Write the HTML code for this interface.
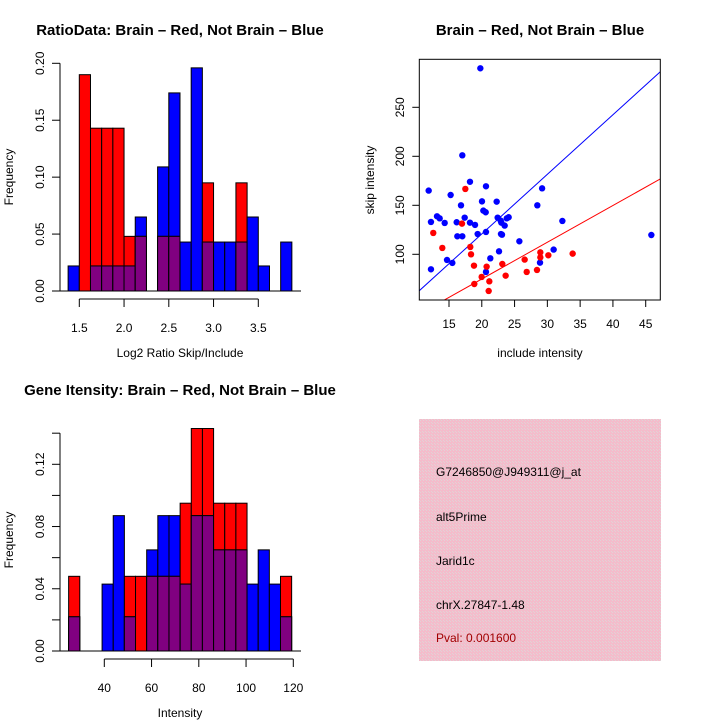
<!DOCTYPE html>
<html><head><meta charset="utf-8"><style>
body{margin:0;background:#fff}
svg{display:block;font-family:"Liberation Sans",sans-serif}
</style></head><body>
<svg id="c" width="720" height="720" xmlns="http://www.w3.org/2000/svg">
<defs>
<pattern id="hatch" width="3" height="3" patternUnits="userSpaceOnUse">
<rect width="3" height="3" fill="#f4bccb"/>
<rect x="0" y="0" width="1" height="1" fill="#e2d2d6"/>
<rect x="2" y="2" width="1" height="1" fill="#e2d2d6"/>
</pattern>
</defs>
<text x="180" y="35" text-anchor="middle" font-size="15" font-weight="bold">RatioData: Brain – Red, Not Brain – Blue</text>
<text x="540" y="35" text-anchor="middle" font-size="15" font-weight="bold">Brain – Red, Not Brain – Blue</text>
<text x="180" y="395" text-anchor="middle" font-size="15" font-weight="bold">Gene Itensity: Brain – Red, Not Brain – Blue</text>
<g id="h1"></g>
<g id="h2"></g>
<g id="sc"></g>
<g>
<rect x="419" y="419" width="242" height="242" fill="url(#hatch)"/>
<text x="436" y="476" font-size="12">G7246850@J949311@j_at</text>
<text x="436" y="521" font-size="12">alt5Prime</text>
<text x="436" y="565" font-size="12">Jarid1c</text>
<text x="436" y="609" font-size="12">chrX.27847-1.48</text>
<text x="436" y="642" font-size="12" fill="#a00000">Pval: 0.001600</text>
</g>
</svg>
<script>
const ratioBreakStart = 1.375, ratioBinWidth = 0.125;
const ratioRed  = [0,0.190,0.143,0.143,0.143,0.048,0.048,0,0.048,0.048,0,0,0.095,0,0,0.095,0,0,0,0];
const ratioBlue = [0.022,0,0.022,0.022,0.022,0.022,0.065,0,0.109,0.174,0.043,0.196,0.043,0.043,0.043,0.043,0.065,0.022,0,0.043];
const ratioXTicks = [1.5,2.0,2.5,3.0,3.5];
const ratioYTicks = [0,0.05,0.10,0.15,0.20];
const ratioYLabels = ["0.00","0.05","0.10","0.15","0.20"];

const intBreakStart = 24.9, intBinWidth = 4.72;
const intRed  = [0.048,0,0,0,0,0.048,0.048,0.048,0.048,0.048,0.095,0.143,0.143,0.095,0.095,0.095,0,0,0,0.048];
const intBlue = [0.022,0,0,0.043,0.087,0.022,0,0.065,0.087,0.087,0.043,0.087,0.087,0.065,0.065,0.065,0.043,0.065,0.043,0.022];
const intXTicks = [40,60,80,100,120];
const intYTicks = [0,0.02,0.04,0.06,0.08,0.10,0.12,0.14];
const intYLabels = ["0.00","","0.04","","0.08","","0.12",""];

const blueX = [19.78,17.03,11.9,18.2,20.64,15.25,29.2,20.03,22.27,16.83,28.47,20.24,20.6,13.17,13.58,17.39,12.25,14.34,16.17,18.2,18.97,22.42,22.88,22.98,23.49,23.8,24.1,32.29,19.37,20.64,16.27,17.03,22.93,23.08,25.73,45.86,22.63,30.96,14.7,15.51,21.3,12.25,20.64,28.88];
const blueY = [289.8,201,165,174,169.4,160.5,167.3,154,153.7,150,150,144.6,142.9,138.8,136.7,137.4,133,132,132.7,132.3,130,137.4,134.4,132.3,129.3,136.7,137.8,134,120.7,122.8,118.4,118.4,120.7,120,113.3,119.7,103,104.8,94.2,91.2,95.9,84.7,82,91.5];
const redX = [17.49,16.98,12.6,13.98,18.25,18.36,18.81,20.74,23.13,19.98,21.15,23.64,18.86,21.05,26.54,26.85,28.42,28.93,28.93,30.15,33.86];
const redY = [166.7,131.3,121.8,106.5,107.5,100,88.4,87.4,90.1,76.9,72.4,78.2,69.7,62.6,94.6,82,84,102,96.9,99,100.7];
const blueLine = [6.08,-0.8]; // slope, intercept
const redLine = [3.75,-0.2];
const scXTicks = [15,20,25,30,35,40,45];
const scYTicks = [100,150,200,250];

const NS="http://www.w3.org/2000/svg";
function mk(p,t,a){const e=document.createElementNS(NS,t);for(const k in a)e.setAttribute(k,a[k]);p.appendChild(e);return e;}

function hist(g,o){
  const sx=v=>o.x0px+(v-o.xv0)*o.xs, sy=v=>o.y0px-v*o.ys;
  const n=o.red.length;
  for(let i=0;i<n;i++){
    const a=sx(o.start+i*o.bw), b=sx(o.start+(i+1)*o.bw);
    const r=o.red[i], bl=o.blue[i];
    const layers=[];
    if(r>0) layers.push([r,'#ff0000','bar-red-'+i]);
    if(bl>0) layers.push([bl,'#0000ff','bar-blue-'+i]);
    layers.sort((p,q)=>q[0]-p[0]);
    if(r>0&&bl>0) layers.push([Math.min(r,bl),'#800080','bar-overlap-'+i]);
    for(const L of layers){
      const e=mk(g,'rect',{x:a,y:sy(L[0]),width:b-a,height:sy(0)-sy(L[0]),fill:L[1],stroke:'#000','stroke-width':1});
      
      
    }
  }
  mk(g,'line',{x1:52,x2:301,y1:sy(0),y2:sy(0),stroke:'#000'});
  const ya=mk(g,'line',{x1:60,x2:60,y1:sy(o.yt[o.yt.length-1]),y2:sy(0),stroke:'#000'});
  
  
  o.yt.forEach((v,i)=>{
    mk(g,'line',{x1:52,x2:60,y1:sy(v),y2:sy(v),stroke:'#000'});
    if(o.yl[i]){const t=mk(g,'text',{x:44,y:sy(v),'font-size':12,'text-anchor':'middle',transform:`rotate(-90 44 ${sy(v)})`});t.textContent=o.yl[i];
    
    }
  });
  const ax=o.y0px+8;
  const xa=mk(g,'line',{x1:sx(o.xt[0]),x2:sx(o.xt[o.xt.length-1]),y1:ax,y2:ax,stroke:'#000'});
  
  
  o.xt.forEach(v=>{
    mk(g,'line',{x1:sx(v),x2:sx(v),y1:ax,y2:ax+8,stroke:'#000'});
    const t=mk(g,'text',{x:sx(v),y:ax+33,'font-size':12,'text-anchor':'middle'});t.textContent=o.xf(v);
    
    
  });
  const xt=mk(g,'text',{x:180,y:o.xlabY,'font-size':12,'text-anchor':'middle'});xt.textContent=o.xlab;
  
  
  const cy=o.ycenter;
  const yt=mk(g,'text',{x:13,y:cy,'font-size':12,'text-anchor':'middle',transform:`rotate(-90 13 ${cy})`});yt.textContent='Frequency';
  
  
}
hist(document.getElementById('h1'),{red:ratioRed,blue:ratioBlue,start:ratioBreakStart,bw:ratioBinWidth,
  x0px:79.3,xv0:1.5,xs:89.5,y0px:291,ys:(291-63.3)/0.2,xt:ratioXTicks,yt:ratioYTicks,yl:ratioYLabels,
  xf:v=>v.toFixed(1),xlab:'Log2 Ratio Skip/Include',xlabY:357,ycenter:177});
hist(document.getElementById('h2'),{red:intRed,blue:intBlue,start:intBreakStart,bw:intBinWidth,
  x0px:104.3,xv0:40,xs:2.3625,y0px:651,ys:(651-464.3)/0.12,xt:intXTicks,yt:intYTicks,yl:intYLabels,
  xf:v=>String(v),xlab:'Intensity',xlabY:717,ycenter:540});

(function(){
  const g=document.getElementById('sc');
  const sx=v=>449+(v-15)*6.557, sy=v=>254.3-(v-100)*0.98;
  const L=419.3,R=660.3,T=59.3,B=300;
  const clip=mk(g,'clipPath',{id:'scclip'});mk(clip,'rect',{x:L,y:T,width:R-L,height:B-T});
  const xv0=(L-449)/6.557+15, xv1=(R-449)/6.557+15;
  [[blueLine,'#0000ff','blue-fit-line'],[redLine,'#ff0000','red-fit-line']].forEach(([ln,c,n])=>{
    const e=mk(g,'line',{x1:sx(xv0),y1:sy(ln[0]*xv0+ln[1]),x2:sx(xv1),y2:sy(ln[0]*xv1+ln[1]),stroke:c,'stroke-width':1,'clip-path':'url(#scclip)'});
    
    
  });
  blueX.forEach((x,i)=>{const e=mk(g,'circle',{cx:sx(x),cy:sy(blueY[i]),r:3.2,fill:'#0000ff'});
    
    });
  redX.forEach((x,i)=>{const e=mk(g,'circle',{cx:sx(x),cy:sy(redY[i]),r:3.2,fill:'#ff0000'});
    
    });
  const box=mk(g,'rect',{x:L,y:T,width:R-L,height:B-T,fill:'none',stroke:'#000'});
  
  
  scXTicks.forEach(v=>{mk(g,'line',{x1:sx(v),x2:sx(v),y1:B,y2:B+7,stroke:'#000'});
    const t=mk(g,'text',{x:sx(v),y:328,'font-size':12,'text-anchor':'middle'});t.textContent=v;
    
    });
  scYTicks.forEach(v=>{mk(g,'line',{x1:L-7,x2:L,y1:sy(v),y2:sy(v),stroke:'#000'});
    const t=mk(g,'text',{x:404,y:sy(v),'font-size':12,'text-anchor':'middle',transform:`rotate(-90 404 ${sy(v)})`});t.textContent=v;
    
    });
  const xt=mk(g,'text',{x:540,y:357,'font-size':12,'text-anchor':'middle'});xt.textContent='include intensity';
  
  
  const yt=mk(g,'text',{x:374,y:180,'font-size':12,'text-anchor':'middle',transform:'rotate(-90 374 180)'});yt.textContent='skip intensity';
  
  
})();
</script>
</body></html>
